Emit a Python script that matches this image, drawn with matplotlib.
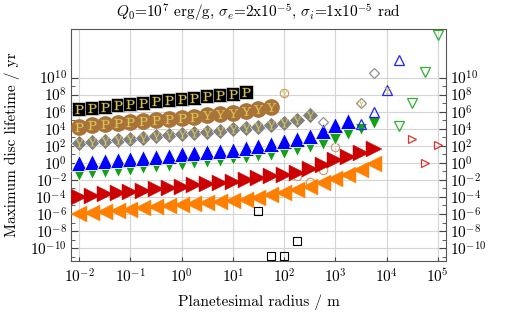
import matplotlib
matplotlib.use("Agg")
import matplotlib.pyplot as plt
import numpy as np

plt.rcParams['font.family'] = ['cmr10', 'DejaVu Serif']
plt.rcParams['mathtext.fontset'] = 'cm'
plt.rcParams['axes.formatter.use_mathtext'] = True

# log10 of planetesimal radius (m)
r_black = [-2.0, -1.75, -1.5, -1.25, -1.0, -0.75, -0.5, -0.25, 0.0, 0.25, 0.5, 0.75, 1.0, 1.25]
t_black = [6.33, 6.45, 6.6, 6.75, 6.9, 7.05, 7.2, 7.35, 7.5, 7.65, 7.8, 7.95, 8.1, 8.25]

r_brown = [-2.0, -1.75, -1.5, -1.25, -1.0, -0.75, -0.5, -0.25, 0.0, 0.25, 0.5, 0.75, 1.0, 1.25, 1.5, 1.75]
t_brown = [4.25, 4.38, 4.5, 4.63, 4.76, 4.9, 5.03, 5.16, 5.3, 5.43, 5.57, 5.7, 5.85, 6.05, 6.35, 6.6]
lab_brown = ['P'] * 10 + ['Y'] * 6

r_gray = [-2.0, -1.75, -1.5, -1.25, -1.0, -0.75, -0.5, -0.25, 0.0, 0.25, 0.5, 0.75, 1.0, 1.25, 1.5, 1.75, 2.0, 2.25, 2.5]
t_gray = [2.3, 2.43, 2.56, 2.7, 2.83, 2.96, 3.1, 3.23, 3.37, 3.5, 3.64, 3.78, 3.92, 4.06, 4.25, 4.45, 4.7, 5.04, 5.6]

r_blue = [-2.0, -1.75, -1.5, -1.25, -1.0, -0.75, -0.5, -0.25, 0.0, 0.25, 0.5, 0.75, 1.0, 1.25, 1.5, 1.75, 2.0, 2.25, 2.5, 2.75, 3.0, 3.25]
t_blue = [0.0, 0.12, 0.24, 0.36, 0.48, 0.6, 0.72, 0.85, 0.98, 1.1, 1.23, 1.37, 1.5, 1.7, 1.95, 2.2, 2.5, 2.85, 3.2, 3.7, 4.4, 4.9]

r_green = [-2.0, -1.75, -1.5, -1.25, -1.0, -0.75, -0.5, -0.25, 0.0, 0.25, 0.5, 0.75, 1.0, 1.25, 1.5, 1.75, 2.0, 2.25, 2.5, 2.75, 3.0, 3.25, 3.5, 3.75]
t_green = [-1.4, -1.25, -1.1, -0.95, -0.8, -0.65, -0.5, -0.35, -0.2, -0.05, 0.1, 0.25, 0.42, 0.6, 0.75, 0.9, 1.1, 1.5, 1.83, 2.22, 2.8, 3.4, 3.98, 4.65]

r_red = [-2.0, -1.75, -1.5, -1.25, -1.0, -0.75, -0.5, -0.25, 0.0, 0.25, 0.5, 0.75, 1.0, 1.25, 1.5, 1.75, 2.0, 2.25, 2.5, 2.75, 3.0, 3.25, 3.5, 3.75]
t_red = [-4.0, -3.85, -3.7, -3.55, -3.4, -3.25, -3.1, -2.95, -2.8, -2.65, -2.5, -2.35, -2.2, -2.0, -1.8, -1.6, -1.4, -1.15, -0.75, -0.25, 0.34, 0.73, 1.13, 1.6]

r_orange = [-2.0, -1.75, -1.5, -1.25, -1.0, -0.75, -0.5, -0.25, 0.0, 0.25, 0.5, 0.75, 1.0, 1.25, 1.5, 1.75, 2.0, 2.25, 2.5, 2.75, 3.0, 3.25, 3.5, 3.75]
t_orange = [-6.0, -5.87, -5.74, -5.61, -5.48, -5.35, -5.22, -5.09, -4.96, -4.83, -4.7, -4.57, -4.44, -4.33, -4.08, -3.77, -3.5, -3.18, -2.79, -2.4, -1.92, -1.42, -0.83, -0.13]

# hollow markers
r_gray_h = [2.75, 3.5, 3.75]
t_gray_h = [4.84, 7.0, 10.5]
r_blue_h = [3.5, 3.75, 4.0, 4.25]
t_blue_h = [4.56, 6.0, 8.55, 12.1]
r_green_h = [4.25, 4.5, 4.75, 5.0]
t_green_h = [4.37, 7.07, 10.63, 15.0]
r_red_h = [4.5, 4.75, 5.0]
t_red_h = [2.77, -0.05, 2.1]
r_brown_h = [2.0, 2.25, 2.5, 2.75, 3.0]
t_brown_h = [8.2, -1.5, -2.2, -0.8, 1.83]
r_black_h = [1.5, 1.75, 2.0, 2.25]
t_black_h = [-5.65, -10.9, -10.9, -9.13]
# hollow markers with a 'Y' label
r_y_h = [2.0, 3.5, 4.0]
t_y_h = [8.2, 7.0, 8.55]

gold = '#d8c455'

def p(v):
    return 10.0 ** np.asarray(v)

fig = plt.figure(figsize=(5.18, 3.14), dpi=100)
ax = fig.add_axes([0.137, 0.169, 0.724, 0.739])

ax.set_xscale('log')
ax.set_yscale('log')

# filled series
ax.plot(p(r_orange), p(t_orange), ls='none', marker='<', ms=11.5, color='#ff8000', mec='#ff8000', mew=0.3, zorder=3)
ax.plot(p(r_red), p(t_red), ls='none', marker='>', ms=11.5, color='#cc0000', mec='#cc0000', mew=0.3, zorder=3)
ax.plot(p(r_green), p(t_green), ls='none', marker='v', ms=9, color='#14a014', mec='white', mew=0.6, zorder=3)
ax.plot(p(r_blue), p(t_blue), ls='none', marker='^', ms=12, color='#0000ff', mec='white', mew=0.6, zorder=3)
ax.plot(p(r_gray), p(t_gray), ls='none', marker='D', ms=8.5, color='#808080', mec='white', mew=0.4, zorder=4)
ax.plot(p(r_brown), p(t_brown), ls='none', marker='o', ms=11, color='#a87238', mec='#a87238', zorder=5)
ax.plot(p(r_black), p(t_black), ls='none', marker='s', ms=10, color='black', mec='white', mew=0.4, zorder=6)

# letters
ax.plot(p(r_black), p(t_black), ls='none', marker=r'$\mathrm{P}$', ms=6.5, color=gold, mew=0.2, zorder=7)
for lab in ['P', 'Y']:
    xs = [r for r, l in zip(r_brown, lab_brown) if l == lab]
    ys = [t for t, l in zip(t_brown, lab_brown) if l == lab]
    ax.plot(p(xs), p(ys), ls='none', marker=r'$\mathrm{%s}$' % lab, ms=6.5, color=gold, mew=0.2, zorder=7)
ax.plot(p(r_gray), p(t_gray), ls='none', marker=r'$\mathrm{Y}$', ms=6, color=gold, mew=0.2, zorder=7)

# hollow series
ax.plot(p(r_gray_h), p(t_gray_h), ls='none', marker='D', ms=5.5, mfc='none', mec='#909090', mew=0.9, zorder=4)
ax.plot(p(r_blue_h), p(t_blue_h), ls='none', marker='^', ms=7, mfc='none', mec='#2020ff', mew=0.9, zorder=4)
ax.plot(p(r_green_h), p(t_green_h), ls='none', marker='v', ms=7, mfc='none', mec='#30b030', mew=0.9, zorder=4)
ax.plot(p(r_red_h), p(t_red_h), ls='none', marker='>', ms=6, mfc='none', mec='#e03030', mew=0.9, zorder=4)
ax.plot(p(r_brown_h), p(t_brown_h), ls='none', marker='o', ms=6, mfc='none', mec='#c8a078', mew=0.9, zorder=2)
ax.plot(p(r_black_h), p(t_black_h), ls='none', marker='s', ms=6, mfc='none', mec='black', mew=0.8, zorder=4)
ax.plot(p(r_y_h), p(t_y_h), ls='none', marker=r'$\mathrm{Y}$', ms=5, color=gold, mew=0.2, zorder=7)

ax.set_xlim(10 ** -2.16, 10 ** 5.16)
ax.set_ylim(10 ** -11.5, 10 ** 15.7)

xt = [1e-2, 1e-1, 1e0, 1e1, 1e2, 1e3, 1e4, 1e5]
ax.set_xticks(xt)
ax.set_xticklabels([r'$10^{%d}$' % e for e in range(-2, 6)])
ax.xaxis.set_minor_locator(matplotlib.ticker.NullLocator())
yt_exp = list(range(-10, 11, 2))
ax.set_yticks([10.0 ** e for e in yt_exp])
ax.set_yticklabels([r'$10^{%d}$' % e for e in yt_exp])
ax.set_yticks([10.0 ** e for e in range(-11, 10, 2)], minor=True)
ax.yaxis.set_minor_formatter(matplotlib.ticker.NullFormatter())

ax.tick_params(axis='y', which='both', direction='in', left=True, right=True, labelleft=True, labelright=True,
               labelsize=11, pad=3, color='#444444')
ax.tick_params(axis='y', which='major', length=5)
ax.tick_params(axis='y', which='minor', length=3)
ax.tick_params(axis='x', which='major', direction='in', length=3, labelsize=11, pad=5, color='#444444', top=False)

ax.grid(True, which='major', color='#d4d4d4', lw=0.8, zorder=0)
ax.set_axisbelow(True)
for s in ax.spines.values():
    s.set_color('#555555')
    s.set_linewidth(0.8)

ax.set_xlabel('Planetesimal radius / m', fontsize=11, labelpad=6)
ax.set_ylabel('Maximum disc lifetime / yr', fontsize=11)
ax.yaxis.set_label_coords(-0.135, 0.5)
ax.set_title(r'$Q_0$=10$^7$ erg/g, $\sigma_e$=2x10$^{-5}$, $\sigma_i$=1x10$^{-5}$ rad', fontsize=11, pad=8)

fig.savefig('out.png', dpi=100)
